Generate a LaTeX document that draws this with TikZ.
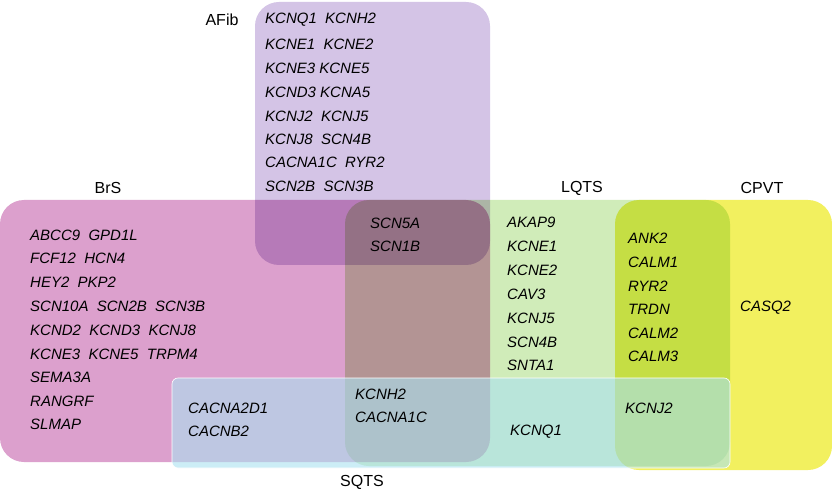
\documentclass[tikz,border=0pt]{standalone}
\usepackage{fontspec}
\setmainfont{Liberation Sans}
\begin{document}
\begin{tikzpicture}[x=1pt,y=-1pt,
  box/.style={rounded corners=24pt,draw=white,line width=0.6pt},
  g/.style={anchor=west,inner sep=0pt,font=\fontsize{15}{17}\selectfont\itshape},
  lab/.style={inner sep=0pt,font=\fontsize{16}{18}\selectfont}]
\useasboundingbox (0,0) rectangle (832,494);
\definecolor{brs}{RGB}{220,160,205}
\definecolor{lq}{RGB}{208,236,185}
\definecolor{cp}{RGB}{242,240,95}
\definecolor{sq}{RGB}{170,225,240}
\definecolor{af}{RGB}{212,196,230}
\begin{scope}[blend group=multiply]
\fill[box,fill=cp] (615,200) rectangle (832,470);
\fill[box,fill=lq] (345,200) rectangle (730,466);
\fill[box,fill=brs] (0,200) rectangle (490,462);
\fill[box,fill=af] (255,2) rectangle (490,265);
\end{scope}
\fill[box,fill=sq,fill opacity=0.6,rounded corners=6pt] (172,378) rectangle (730,468);
\node[lab] (afib) at (222,20) {AFib};
\node[lab] (brsl) at (108,188) {BrS};
\node[lab] (lqts) at (582,188) {LQTS};
\node[lab] (cpvt) at (762,188) {CPVT};
\node[lab] (sqts) at (362,482) {SQTS};
\node[g] (a1) at (265,20) {KCNQ1\ \ KCNH2};
\node[g] (a2) at (265,44) {KCNE1\ \ KCNE2};
\node[g] (a3) at (265,68) {KCNE3 KCNE5};
\node[g] (a4) at (265,92) {KCND3 KCNA5};
\node[g] (a5) at (265,116) {KCNJ2\ \ KCNJ5};
\node[g] (a6) at (265,139) {KCNJ8\ \ SCN4B};
\node[g] (a7) at (265,162) {CACNA1C\ \ RYR2};
\node[g] (a8) at (265,186) {SCN2B\ \ SCN3B};
\node[g] (s1) at (370,223) {SCN5A};
\node[g] (s2) at (370,246) {SCN1B};
\node[g] (b1) at (30,235) {ABCC9\ \ GPD1L};
\node[g] (b2) at (30,258) {FCF12\ \ HCN4};
\node[g] (b3) at (30,282) {HEY2\ \ PKP2};
\node[g] (b4) at (30,306) {SCN10A\ \ SCN2B\ \ SCN3B};
\node[g] (b5) at (30,330) {KCND2\ \ KCND3\ \ KCNJ8};
\node[g] (b6) at (30,354) {KCNE3\ \ KCNE5\ \ TRPM4};
\node[g] (b7) at (30,377) {SEMA3A};
\node[g] (b8) at (30,401) {RANGRF};
\node[g] (b9) at (30,424) {SLMAP};
\node[g] (c1) at (188,408) {CACNA2D1};
\node[g] (c2) at (188,431) {CACNB2};
\node[g] (h1) at (355,394) {KCNH2};
\node[g] (h2) at (355,417) {CACNA1C};
\node[g] (q1) at (510,432) {KCNQ1};
\node[g] (l1) at (507,222) {AKAP9};
\node[g] (l2) at (507,246) {KCNE1};
\node[g] (l3) at (507,270) {KCNE2};
\node[g] (l4) at (507,294) {CAV3};
\node[g] (l5) at (507,318) {KCNJ5};
\node[g] (l6) at (507,342) {SCN4B};
\node[g] (l7) at (507,365) {SNTA1};
\node[g] (p1) at (628,238) {ANK2};
\node[g] (p2) at (628,262) {CALM1};
\node[g] (p3) at (628,286) {RYR2};
\node[g] (p4) at (628,309) {TRDN};
\node[g] (p5) at (628,333) {CALM2};
\node[g] (p6) at (628,356) {CALM3};
\node[g] (j1) at (625,408) {KCNJ2};
\node[g] (cq) at (740,308) {CASQ2};
\end{tikzpicture}
\end{document}
